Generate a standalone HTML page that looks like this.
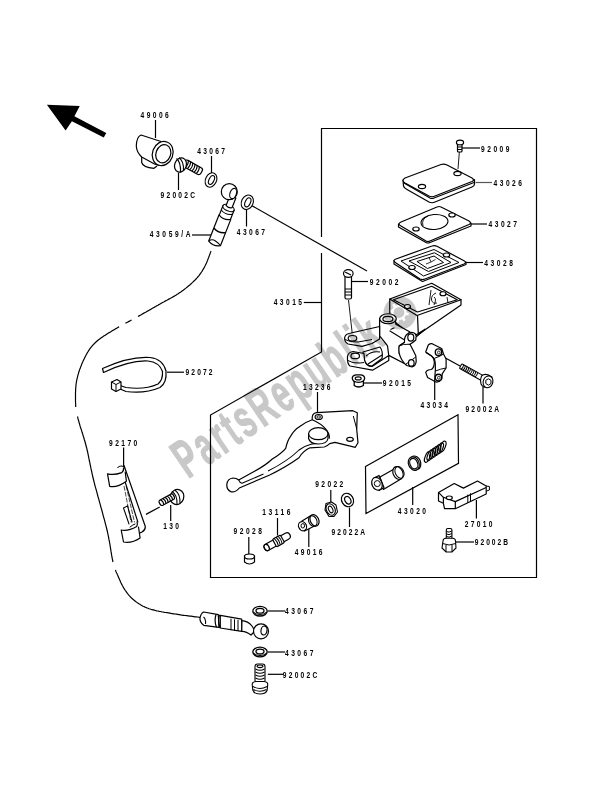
<!DOCTYPE html>
<html><head><meta charset="utf-8">
<style>
html,body{margin:0;padding:0;background:#fff;width:600px;height:785px;overflow:hidden}
svg{display:block}
.l{font-family:"Liberation Sans",sans-serif;font-size:9px;fill:#111}
</style></head><body>
<svg width="600" height="785" viewBox="0 0 600 785">
<g fill="none" stroke="#000" stroke-width="1.2" id="frame">
<path d="M321.5,237 L321.5,128.5 L536.5,128.5 L536.5,577.5 L210.5,577.5 L210.5,415 L321.5,352 L321.5,253"/>
</g>
<!-- arrow -->
<polygon points="46.9,104.75 79.75,106 74.4,116.25 106.25,133.1 103.75,137.5 71.9,121.25 65.6,130.6" fill="#000"/>

<!-- leaders -->
<g stroke="#000" stroke-width="1.2" fill="none">
<path d="M155.5,120 V138"/>
<path d="M211.5,156 V174"/>
<path d="M178.5,173 V190"/>
<path d="M192,235 H211"/>
<path d="M246.5,208 V226.5"/>
<path d="M462,148 H480"/>
<path d="M475.5,182.5 H492" stroke="#555"/>
<path d="M470,224 H487"/>
<path d="M466,262.5 H483"/>
<path d="M352,281.5 H368"/>
<path d="M303.8,302.5 H321.5"/>
<path d="M167,372.2 H184"/>
<path d="M364,383 H382"/>
<path d="M434.7,381 V400"/>
<path d="M483,387 V403.5"/>
<path d="M317.5,392 V413"/>
<path d="M123.6,447.5 V466"/>
<path d="M412.7,487 V505"/>
<path d="M476.4,500 V518.5"/>
<path d="M330.8,490 V502.5"/>
<path d="M349.5,507.5 V527"/>
<path d="M277.5,518 V535.5"/>
<path d="M248.8,537 V554.5"/>
<path d="M308.8,528.7 V547"/>
<path d="M170.7,505 V521"/>
<path d="M456,542 H474"/>
<path d="M267.8,611 H285"/>
<path d="M267.8,652 H285"/>
<path d="M267.8,674.3 H283"/>
<!-- long line washer to body bolt -->
<path d="M251.5,205.5 L367,271"/>
<!-- line clamp to bolt -->
<path d="M440,355 L460,366"/>
<!-- line bracket to bolt 130 -->
<path d="M146,514.4 L159.7,507"/>
</g>


<!-- hose -->
<g stroke="#000" stroke-width="1.2" fill="none" stroke-linejoin="round">
<path d="M211.0,251.0 L210.8,251.4 L210.7,251.9 L210.5,252.5 L210.2,253.1 L210.0,253.7 L209.7,254.5 L209.5,255.2 L209.2,256.0 L208.9,256.8 L208.6,257.7 L208.2,258.6 L207.9,259.4 L207.6,260.3 L207.2,261.2 L206.9,262.0 L206.5,262.9 L206.1,263.7 L205.7,264.5 L205.4,265.3 L205.0,266.0 L204.6,266.7 L204.3,267.4 L203.9,268.1 L203.5,268.7 L203.1,269.4 L202.7,270.0 L202.4,270.7 L202.0,271.3 L201.5,272.0 L201.1,272.6 L200.7,273.2 L200.2,273.9 L199.8,274.5 L199.3,275.1 L198.8,275.8 L198.3,276.4 L197.8,277.0 L197.2,277.7 L196.6,278.3 L196.0,279.0 L195.4,279.7 L194.7,280.3 L194.0,281.0 L193.3,281.7 L192.6,282.4 L191.8,283.1 L191.1,283.8 L190.3,284.5 L189.5,285.2 L188.7,285.8 L187.9,286.5 L187.0,287.2 L186.2,287.9 L185.3,288.6 L184.4,289.3 L183.6,289.9 L182.7,290.6 L181.8,291.2 L180.9,291.9 L180.0,292.5 L179.1,293.1 L178.2,293.7 L177.2,294.3 L176.3,294.9 L175.3,295.5 L174.4,296.1 L173.4,296.6 L172.4,297.2 L171.4,297.8 L170.4,298.3 L169.4,298.9 L168.3,299.4 L167.3,300.0 L166.3,300.5 L165.2,301.1 L164.2,301.7 L163.1,302.2 L162.1,302.8 L161.0,303.4 L160.0,304.0 L158.9,304.6 L157.9,305.2 L156.8,305.8 L155.7,306.5 L154.6,307.1 L153.5,307.7 L152.4,308.3 L151.3,309.0 L150.2,309.6 L149.1,310.2 L147.9,310.9 L146.8,311.5 L145.7,312.2 L144.6,312.8 L143.5,313.4 L142.4,314.0 L141.3,314.7 L140.2,315.3 L139.1,315.9 L138.0,316.5 M131.6,319.9 L130.6,320.5 L129.5,321.1 L128.5,321.6 L127.4,322.2 L126.4,322.7 L125.4,323.3 M119.1,326.8 L118.0,327.4 L117.0,328.0 L115.9,328.6 L114.9,329.3 L113.8,329.9 L112.6,330.6 L111.5,331.3 L110.4,332.0 L109.3,332.6 L108.1,333.3 L107.0,334.0 L105.9,334.7 L104.8,335.4 L103.7,336.1 L102.6,336.9 L101.6,337.6 L100.6,338.3 L99.6,339.0 L98.6,339.8 L97.7,340.5 L96.8,341.3 L96.0,342.0 L95.2,342.7 L94.5,343.5 L93.7,344.2 L93.1,344.9 L92.4,345.7 L91.8,346.4 L91.2,347.1 L90.6,347.9 L90.0,348.6 L89.5,349.4 L89.0,350.1 L88.5,350.9 L88.0,351.7 L87.5,352.5 L87.0,353.4 L86.5,354.2 L86.0,355.1 L85.6,356.0 L85.1,356.9 L84.6,357.9 L84.1,358.9 L83.6,359.9 L83.1,361.0 L82.7,362.0 L82.2,363.1 L81.7,364.2 L81.3,365.4 L80.8,366.5 L80.4,367.7 L79.9,368.9 L79.5,370.1 L79.1,371.3 L78.7,372.5 L78.4,373.7 L78.0,374.9 L77.7,376.1 L77.4,377.4 L77.1,378.6 L76.8,379.8 L76.6,381.0 L76.4,382.2 L76.2,383.5 L76.0,384.8 L75.9,386.1 L75.8,387.4 L75.7,388.7 L75.6,390.0 L75.6,391.4 L75.5,392.7 L75.5,394.1 L75.5,395.4 L75.5,396.7 L75.5,398.0 L75.5,399.2 L75.5,400.5 L75.5,401.7 L75.6,402.8 L75.6,403.9 L75.7,405.0 L75.7,406.0 L75.7,406.9 M77.5,416.5 L77.7,417.3 L77.9,418.1 L78.1,419.0 L78.4,420.0 L78.7,421.0 L79.0,422.1 L79.3,423.3 L79.7,424.5 L80.0,425.7 L80.4,427.0 L80.8,428.2 L81.3,429.6 L81.7,430.9 L82.1,432.3 L82.6,433.7 L83.0,435.1 L83.4,436.6 L83.9,438.0 L84.3,439.5 L84.8,441.0 L85.2,442.5 L85.6,444.0 L86.0,445.5 L86.4,447.0 L86.8,448.5 L87.1,450.0 L87.5,451.5 L87.8,452.9 L88.1,454.4 L88.4,455.9 L88.7,457.4 L89.0,459.0 L89.3,460.5 L89.7,462.1 L90.0,463.7 L90.3,465.3 L90.7,467.0 L91.0,468.7 L91.4,470.4 L91.8,472.2 L92.2,474.1 L92.6,476.0 L93.1,478.0 L93.6,480.0 L94.1,482.1 L94.7,484.4 L95.3,486.8 L96.0,489.2 L96.7,491.7 L97.4,494.3 L98.1,497.0 L98.9,499.6 L99.6,502.3 L100.4,505.1 L101.1,507.8 L101.9,510.5 L102.6,513.2 L103.3,515.8 L104.0,518.4 L104.7,520.9 L105.3,523.3 L105.9,525.7 L106.5,527.9 L107.0,530.0 L107.5,532.0 L107.9,534.0 L108.3,535.9 L108.7,537.8 L109.0,539.7 L109.4,541.5 L109.7,543.2 L110.0,545.0 L110.3,546.6 L110.5,548.2 L110.8,549.8 L111.0,551.4 L111.3,552.8 L111.5,554.3 L111.7,555.7 L112.0,557.0 L112.2,558.3 L112.5,559.6 L112.7,560.8 L113.0,562.0 M115.4,570.1 L115.7,570.7 L115.9,571.3 L116.1,571.8 L116.4,572.4 L116.6,572.9 L116.9,573.5 L117.2,574.1 L117.4,574.7 L117.7,575.3 L118.0,576.0 L118.3,576.7 L118.6,577.4 L118.9,578.1 L119.2,578.8 L119.5,579.6 L119.9,580.3 L120.2,581.0 L120.5,581.7 L120.8,582.5 L121.2,583.2 L121.5,583.9 L121.9,584.6 L122.2,585.3 L122.6,586.0 L123.0,586.7 L123.4,587.4 L123.8,588.1 L124.2,588.7 L124.6,589.4 L125.0,590.0 L125.4,590.6 L125.9,591.2 L126.3,591.8 L126.7,592.4 L127.2,593.0 L127.6,593.6 L128.1,594.2 L128.5,594.8 L129.0,595.3 L129.5,595.9 L130.0,596.4 L130.5,597.0 L131.0,597.5 L131.5,598.0 L132.1,598.5 L132.6,599.0 L133.2,599.5 L133.8,600.0 L134.4,600.5 L135.0,601.0 L135.6,601.5 L136.3,601.9 L136.9,602.4 L137.5,602.8 L138.2,603.3 L138.8,603.7 L139.5,604.1 L140.2,604.6 L140.9,605.0 L141.6,605.4 L142.3,605.8 L143.0,606.2 L143.8,606.5 L144.6,606.9 L145.4,607.3 L146.3,607.6 L147.2,608.0 L148.1,608.3 L149.0,608.7 L150.0,609.0 L151.0,609.3 L152.1,609.6 L153.2,609.9 L154.3,610.2 L155.5,610.5 L156.7,610.8 L158.0,611.0 L159.2,611.3 L160.5,611.5 L161.8,611.8 L163.1,612.0 L164.4,612.3 L165.8,612.5 L167.1,612.7 L168.4,612.9 L169.8,613.1 L171.1,613.4 L172.4,613.6 L173.7,613.8 L175.0,614.0 L176.3,614.2 L177.7,614.4 L179.1,614.6 L180.6,614.9 L182.0,615.1 L183.5,615.3 L185.1,615.5 L186.6,615.7 L188.1,615.9 L189.6,616.1 L191.0,616.2 L192.4,616.4 L193.8,616.6 L195.1,616.8 L196.3,616.9 L197.4,617.0 L198.5,617.2 L199.4,617.3 L200.3,617.4 L201.0,617.5"/>
</g>
<!-- 49006 cap -->
<g stroke="#000" stroke-width="1.2" fill="#fff" stroke-linejoin="round">
<path d="M141.7,156 L141.7,162.5 Q143,167.5 154,168.3 L157,166" fill="none"/>
<path d="M141,135 L161,141.5 L159,165.5 L154.5,164 L141.7,157 Q136.5,152 136.3,146 Q136.5,137 141,135 Z"/>
<ellipse cx="162.7" cy="153.5" rx="10.2" ry="12.3" transform="rotate(20 162.7 153.5)"/>
<ellipse cx="163.3" cy="153.8" rx="7.3" ry="9.3" transform="rotate(20 163.3 153.8)"/>
</g>
<!-- 92002C bolt top -->
<g stroke="#000" stroke-width="1.2" fill="#fff">
<g transform="translate(184,162.5) rotate(29)">
<rect x="0" y="-3.8" width="20" height="7.6" rx="2.5"/>
<path d="M3,-3.8 Q5,0 3.5,3.8 M5.5,-3.8 Q7.5,0 6,3.8 M8,-3.8 Q10,0 8.5,3.8 M10.5,-3.8 Q12.5,0 11,3.8 M13,-3.8 Q15,0 13.5,3.8 M15.5,-3.8 Q17.5,0 16,3.8" stroke-width="1.05" fill="none"/>
</g>
<ellipse cx="180.5" cy="165" rx="5.8" ry="7.3" transform="rotate(20 180.5 165)"/>
<path d="M176.5,158.5 Q181,162 180.5,172.5 M179,157.8 Q184,161 183.5,171" fill="none" stroke-width="1.2"/>
</g>
<!-- washer 43067 top -->
<g stroke="#000" stroke-width="1.1" fill="#fff">
<ellipse cx="211" cy="180" rx="5.5" ry="7.5" transform="rotate(25 211 180)"/>
<ellipse cx="211.5" cy="180" rx="2.5" ry="4.8" transform="rotate(25 211.5 180)"/>
</g>
<!-- washer 43067 right -->
<g stroke="#000" stroke-width="1.1" fill="#fff">
<ellipse cx="247.3" cy="202.3" rx="5.8" ry="7.5" transform="rotate(25 247.3 202.3)"/>
<ellipse cx="247.8" cy="202.3" rx="2.6" ry="4.8" transform="rotate(25 247.8 202.3)"/>
</g>
<!-- banjo 43059/A -->
<g stroke="#000" stroke-width="1.2" fill="#fff" stroke-linejoin="round">
<g transform="translate(228.5,208) rotate(21.5)">
<path d="M-6.3,10 L-6.3,38 Q0,41.5 6.3,38 L6.3,10 Z"/>
<path d="M-6.3,24 Q0,27.5 6.3,24" fill="none" stroke-width="1.4"/>
<path d="M-6.3,38 Q-4,34.5 0,35.5 Q4,36.5 6.3,38" fill="none" stroke-width="1"/>
<path d="M-6,0 L-6,10 Q0,13.5 6,10 L6,0 Z"/>
<path d="M-6,4.5 Q0,8 6,4.5" fill="none" stroke-width="1.05"/>
<ellipse cx="0" cy="0" rx="6" ry="3"/>
<path d="M-3.2,-12 L-3.2,-1.5 Q0,0.5 3.2,-1.5 L3.2,-12 Z"/>
</g>
<circle cx="229.3" cy="191.7" r="8"/>
<ellipse cx="233.2" cy="193.5" rx="3.2" ry="5.3" transform="rotate(20 233.2 193.5)"/>
</g>
<!-- screw 92009 -->
<g stroke="#000" stroke-width="1.2" fill="#fff">
<path d="M459.5,150 L458,169" stroke-width="0.9" fill="none"/>
<rect x="457.5" y="143" width="4.5" height="9" rx="1"/>
<path d="M457.5,147 H462 M457.5,149.5 H462" stroke-width="1"/>
<ellipse cx="460" cy="142.5" rx="3.6" ry="2.4"/>
</g>
<!-- cover 43026 -->
<g stroke="#000" stroke-width="1.2" fill="#fff" stroke-linejoin="round">
<path d="M403,180 L403.5,186 Q404,188 407,189.5 L429,202 Q432,203.5 435,202 L472,187 Q474.5,186 474.5,184 L474.5,179.5 L432,192 Z"/>
<path d="M405,178 L441,164.5 Q444,163.5 447,165 L472,178 Q475,180 472,181.5 L435,196 Q432,197.5 429,196 L405,183 Q401,180.5 405,178 Z"/>
<path d="M404,183 L430,198 Q432,199 434,198 L474,182.5" fill="none"/>
<ellipse cx="422" cy="186.5" rx="3.6" ry="2.2"/>
<ellipse cx="457.5" cy="173.5" rx="3.6" ry="2.2"/>
</g>
<!-- diaphragm 43027 -->
<g stroke="#000" stroke-width="1.2" fill="#fff" stroke-linejoin="round">
<path d="M398.5,224 L398.5,227 L426,242.5 Q428,243.5 430,242.5 L471,226 L471,223 Z"/>
<path d="M401,222 L437,207 Q439,206 441,207 L469,221 Q472,223 469,224.5 L430,241 Q428,242 426,241 L401,226 Q397,224 401,222 Z"/>
<ellipse cx="434.5" cy="222" rx="13.5" ry="7.5" transform="rotate(-5 434.5 222)" stroke-width="1.1"/>
<path d="M423,226 Q421,219 428,216" fill="none" stroke-width="0.9"/>
<ellipse cx="416" cy="229" rx="3.2" ry="2"/>
<ellipse cx="452" cy="215" rx="3.2" ry="2"/>
</g>
<!-- plate 43028 -->
<g stroke="#000" stroke-width="1.2" fill="#fff" stroke-linejoin="round">
<path d="M394,260.5 L394,264 L422.5,281.5 L466,264.5 L466,262 Z"/>
<path d="M396,259 L432,246 Q434.5,245 437,246.3 L464,260.8 Q467,262.5 464,264 L425,279 Q422.5,280 420,279 L396,263 Q392,260.5 396,259 Z"/>
<path d="M401,261 L434,249.5 L459,262.5 L423.5,276 Z" fill="none" stroke-width="1"/>
<path d="M409,261 L434.5,252.75 L451,262.5 L428.5,271.5 Z" fill="none" stroke-width="1"/>
<path d="M417,261.5 L434,256 L443.5,262.5 L427.5,268.5 Z" fill="none" stroke-width="1"/>
<path d="M429,257.5 L431,262 L435.5,259.5 M426,264 L431,262" fill="none" stroke-width="0.8"/>
<ellipse cx="412" cy="267.5" rx="3.2" ry="2"/>
<ellipse cx="446.5" cy="255" rx="3.2" ry="2"/>
</g>
<!-- bolt 92002 body -->
<g stroke="#000" stroke-width="1.2" fill="#fff">
<path d="M348.5,300 L352.5,336" fill="none" stroke-width="0.9"/>
<rect x="345" y="275" width="6.5" height="24" rx="1.5"/>
<path d="M345,289 H351.5 M345,292 H351.5 M345,295 H351.5" stroke-width="1.05"/>
<ellipse cx="348.3" cy="273.5" rx="4.8" ry="3.8"/>
<path d="M345,272 L351,275" stroke-width="1.05"/>
</g>
<!-- body 43015 -->
<g stroke="#000" stroke-width="1.2" fill="#fff" stroke-linejoin="round">
<!-- reservoir walls -->
<path d="M389.75,299 L389.75,314 L396,323 L409,333 L416,336 L461,305 L461,299.75 Z"/>
<path d="M389.75,299 L431.75,283.25 L461,299.75 L417,315.5 Z"/>
<path d="M393.5,299.75 L431.75,286.25 L457.25,299.75 L417.5,312 Z" fill="none"/>
<path d="M417.5,315.5 L418.25,333" fill="none"/>
<ellipse cx="407.5" cy="306.5" rx="3" ry="2"/>
<ellipse cx="443" cy="293.75" rx="3" ry="2"/>
<path d="M431,290 L429,305 M447,297 L448,303" fill="none" stroke-width="0.9"/>
<path d="M436,293 Q431,295 431.5,300 Q432.5,304 437,303 M434,297 Q437,299 434,305" fill="none" stroke-width="0.9"/>
<!-- boss + arm to clamp -->
<path d="M379.6,318.5 L379.6,335.8 Q384,341 387.5,345.8 L388.75,355.4 L405.8,364.2 L399.2,353.3 L399.2,345.8 L405,342 L409.6,331.7 L395.8,324.2 L395.4,320 Z"/>
<path d="M389.6,330.8 L405.8,340.8 M390.5,329.5 L394.5,327.8" fill="none" stroke-width="1.05"/>
<ellipse cx="388" cy="318.75" rx="8.3" ry="5"/>
<ellipse cx="387.9" cy="319" rx="5" ry="2.7"/>
<!-- clamp half on body -->
<path d="M404.5,342.5 Q404,336 408,333.5 Q412,331 415.5,334 Q416.5,337 415.8,335 L425,329.2 L416,337 L415.8,340 Q413,342.5 410,344.3 Q413,350 415.8,355.8 L416.2,361 Q416,366 412,367 L406.7,365.5 Q401,360.5 399.2,353.3 Q398.5,347 399.5,345.8 Z"/>
<path d="M399.5,345.8 Q403,344 410,344.3" fill="none"/>
<path d="M405.8,364.2 L415.8,357" fill="none" stroke-width="1"/>
<ellipse cx="410.8" cy="337.5" rx="3" ry="3.6"/>
<ellipse cx="411.3" cy="362.9" rx="2.8" ry="3.3"/>
<!-- upper ear -->
<path d="M344.6,338 Q345,333.8 351,333 L379.6,326.5 L379.6,339 L372,343.5 L362,346.3 L348,344 Q344.5,342 344.6,338 Z"/>
<path d="M345,339.5 Q350,342.5 358,342 L372,339.5" fill="none" stroke-width="1"/>
<ellipse cx="352.5" cy="338.3" rx="4.3" ry="2.8"/>
<!-- slot -->
<path d="M363,352 L380,347 Q383.5,352 382,358.5 L372,366 Q366,366 364,360 Z"/>
<path d="M366,356 Q372,350.5 380,352 M368,364 L382,355" fill="none" stroke-width="1.05"/>
<!-- lower ear -->
<path d="M347.5,356.5 Q348,352.5 353,351.5 L364,353.5 L364.5,360 Q366,366.5 372,366.5 L388.75,355.4 L388.75,360.5 L372.5,370.2 L350,366 Q347,364 347.5,356.5 Z"/>
<path d="M348,360.5 Q352,363.5 360,363 L364,362.5" fill="none" stroke-width="1"/>
<ellipse cx="355.2" cy="355.9" rx="4.3" ry="2.8"/>
</g>
<!-- nut 92015 -->
<g stroke="#000" stroke-width="1.3" fill="#fff">
<path d="M354.2,381 L354.2,385.5 Q358.5,388.5 363.4,385.5 L363.4,381 Z"/>
<path d="M352.3,378.5 Q352,375.5 356,374.8 L361,374.8 Q364.8,375.5 364.6,378.5 Q364.3,382 358.5,382.3 Q352.6,382 352.3,378.5 Z"/>
<ellipse cx="358.2" cy="378.4" rx="3" ry="1.5" stroke-width="1.1"/>
</g>
<!-- clamp 43034 -->
<g stroke="#000" stroke-width="1.2" fill="#fff" stroke-linejoin="round">
<path d="M428.3,345 Q430,343.5 432.1,343.7 L441.7,348.5 L443.5,354 L446.1,359 L446.1,368 L442.3,373.7 L441.7,378.8 Q439,382.5 435.9,382 L427.6,377.5 L425.7,372.4 Q427,369.5 431.5,369.5 Q434.5,367 434.3,362 Q433.8,357 430,355 L425.7,352 Z"/>
<path d="M425.9,352.5 Q431,355 434.4,358.6 Q435.8,363 435.4,369 L435,375 L434.6,382" fill="none"/>
<path d="M443.5,354 Q439,357 435,358 M435.5,371 Q440,369 446,368" fill="none" stroke-width="1"/>
<ellipse cx="438.5" cy="352.3" rx="3.2" ry="3.4" stroke-width="1.4"/>
<ellipse cx="438.8" cy="352.5" rx="1.3" ry="1.5" fill="none" stroke-width="0.8"/>
<ellipse cx="438.5" cy="377.6" rx="3.2" ry="3.4" stroke-width="1.4"/>
<ellipse cx="438.8" cy="377.8" rx="1.3" ry="1.5" fill="none" stroke-width="0.8"/>
</g>
<!-- bolt 92002A -->
<g stroke="#000" stroke-width="1.1" fill="#fff">
<g transform="translate(460.6,366) rotate(29)">
<rect x="0" y="-2.6" width="25" height="5.2" rx="1"/>
<path d="M2,-2.6 Q3.2,0 2,2.6 M4,-2.6 Q5.2,0 4,2.6 M6,-2.6 Q7.2,0 6,2.6 M8,-2.6 Q9.2,0 8,2.6 M10,-2.6 Q11.2,0 10,2.6 M12,-2.6 Q13.2,0 12,2.6 M14,-2.6 Q15.2,0 14,2.6 M16,-2.6 Q17.2,0 16,2.6 M18,-2.6 Q19.2,0 18,2.6" stroke-width="1" fill="none"/>
</g>
<path d="M481.5,376 Q484,373.5 488,374.8 L492,377 L488,387.5 Q483,388 481,384 Q479.8,379.5 481.5,376 Z"/>
<ellipse cx="488" cy="381.8" rx="4.8" ry="6" transform="rotate(20 488 381.8)"/>
<path d="M488.4,378.8 L491,380.3 L491,383.5 L488.4,385.2 L485.8,383.5 L485.8,380.3 Z" stroke-width="1"/>
</g>
<!-- lever 13236 -->
<g stroke="#000" stroke-width="1.2" fill="#fff" stroke-linejoin="round">
<path d="M316.7,412.7 L352.7,410.7 L357.3,412.7 L356.7,429.3 L358,442.7 L355.3,447.3 L335,442.3 L329.7,443.7 Q327,446.5 324.3,447 L310,447.8 Q303,451 299,457.7 Q286,467 269.7,475 L239.3,488 Q236,492.5 231,491.8 Q226.5,489.5 226.8,484.5 Q227.5,478.5 233,478 Q236.5,478 238.7,480 L255,471 Q266,465 272.3,459 Q282,453 285.7,448.3 Q287.5,441 289.7,437.7 Q294,430 299,427 Q305,422 312.3,419.7 Q311.5,413 316.7,412.7 Z"/>
<path d="M238.7,480 Q240,483 242,483.3 L263.5,474 M268,471 Q288,461 299,450 Q304,446 311,444.2 L325.7,441.7" fill="none" stroke-width="1.05"/>
<path d="M312.3,419.7 Q322,424 326,429.3 Q330,434 329.3,438.7" fill="none"/>
<path d="M353.3,416 L356.7,428.7" fill="none" stroke-width="1"/>
<ellipse cx="318.7" cy="417" rx="3.6" ry="2.5"/>
<ellipse cx="318.7" cy="417" rx="1.8" ry="1.2" fill="none" stroke-width="0.9"/>
<ellipse cx="350" cy="439.3" rx="3.3" ry="2"/>
<path d="M308.6,433.7 L308.6,438.5 Q310,444 318.3,444 Q327,444 328,438.5 L328,433.7 Z"/>
<ellipse cx="318.3" cy="433.7" rx="9.7" ry="6"/>
</g>
<!-- box 43020 -->
<g stroke="#000" stroke-width="1.2" fill="none">
<path d="M365.5,466.5 L458,414.8 L458.5,463.3 L366,513.5 Z"/>
</g>
<!-- piston -->
<g stroke="#000" stroke-width="1.2" fill="#fff" stroke-linejoin="round">
<path d="M380,477 L395.5,468.3 L399.7,479.7 L383.4,489.5 Z"/>
<ellipse cx="398" cy="473" rx="4.8" ry="6.8" transform="rotate(-25 398 473)"/>
<ellipse cx="399.5" cy="472.3" rx="4.2" ry="6.2" transform="rotate(-25 399.5 472.3)" fill="none" stroke-width="1"/>
<path d="M374,478 L379,475.5 L384,487.5 L379,490.5 Z"/>
<ellipse cx="377" cy="483.8" rx="5" ry="6.6" transform="rotate(-25 377 483.8)"/>
<circle cx="377.3" cy="483.6" r="3" stroke-width="1"/>
</g>
<!-- seal 43020 ring -->
<g stroke="#000" stroke-width="1.2" fill="#fff">
<ellipse cx="415.3" cy="462.8" rx="5.3" ry="7" transform="rotate(-22 415.3 462.8)"/>
<ellipse cx="413.8" cy="463.6" rx="5.3" ry="7" transform="rotate(-22 413.8 463.6)"/>
<ellipse cx="413.8" cy="463.6" rx="3.8" ry="5.4" transform="rotate(-22 413.8 463.6)"/>
</g>
<!-- spring -->
<g stroke="#000" stroke-width="1.2" fill="none">
<ellipse cx="427.50" cy="457.00" rx="2.3" ry="5.6" transform="rotate(22 427.50 457.00)"/>
<ellipse cx="430.08" cy="455.25" rx="2.3" ry="5.6" transform="rotate(22 430.08 455.25)"/>
<ellipse cx="432.67" cy="453.50" rx="2.3" ry="5.6" transform="rotate(22 432.67 453.50)"/>
<ellipse cx="435.25" cy="451.75" rx="2.3" ry="5.6" transform="rotate(22 435.25 451.75)"/>
<ellipse cx="437.83" cy="450.00" rx="2.3" ry="5.6" transform="rotate(22 437.83 450.00)"/>
<ellipse cx="440.42" cy="448.25" rx="2.3" ry="5.6" transform="rotate(22 440.42 448.25)"/>
<ellipse cx="443.00" cy="446.50" rx="2.3" ry="5.6" transform="rotate(22 443.00 446.50)"/>
</g>
<!-- 27010 bracket -->
<g stroke="#000" stroke-width="1.2" fill="#fff" stroke-linejoin="round">
<path d="M438.5,492.4 L454.2,483.5 L463.4,488.1 L477.5,481 L486.2,485.9 L486.2,494 L455.3,508.7 L444.5,508.7 L443.4,503.3 L438.5,501 Z"/>
<path d="M438.5,492.4 L443.4,497.3 L455.3,501.6 L486.2,487.5" fill="none"/>
<path d="M443.4,497.3 L443.4,503.3 M455.3,501.6 L455.3,508.7" fill="none"/>
<path d="M467.8,494.6 L467.8,503 M470.5,493.3 L470.5,501.7" fill="none" stroke-width="1"/>
<ellipse cx="449.3" cy="497.8" rx="3" ry="1.8"/>
<path d="M486.2,486 L489.4,486.5 L489.4,490 L486.5,491" fill="none" stroke-width="1"/>
</g>
<!-- bolt 92002B -->
<g stroke="#000" stroke-width="1.1" fill="#fff">
<rect x="446.3" y="528.5" width="5.6" height="13" rx="1.5"/>
<path d="M446.3,531.5 Q449,533 451.9,531 M446.3,534 Q449,535.5 451.9,533.5 M446.3,536.5 Q449,538 451.9,536 M446.3,539 Q449,540.5 451.9,538.5" fill="none" stroke-width="1"/>
<path d="M443,541 Q443,538.5 446,538.3 L452.5,538.3 Q455.5,538.5 455.5,541 L456,548 L452,552 L446,552 L442,548 Z"/>
<path d="M442.5,543.5 Q449,546.5 455.8,543.5 M446,545 L446,552 M452,545 L452,552" fill="none" stroke-width="1"/>
</g>
<!-- nut 92022 -->
<g stroke="#000" stroke-width="1.1" fill="#fff" stroke-linejoin="round">
<path d="M326,503.5 L331.5,502 L336,505 L337.5,512 L334,516.5 L329,516.5 L325,510 Z"/>
<ellipse cx="330.7" cy="509.5" rx="4.3" ry="6" transform="rotate(-25 330.7 509.5)"/>
<ellipse cx="330.7" cy="509.5" rx="2" ry="3.5" transform="rotate(-25 330.7 509.5)" stroke-width="1.05"/>
</g>
<!-- washer 92022A -->
<g stroke="#000" stroke-width="1.2" fill="#fff">
<ellipse cx="347.5" cy="500" rx="5.8" ry="7" transform="rotate(-30 347.5 500)"/>
<ellipse cx="347.8" cy="500.2" rx="2.8" ry="4" transform="rotate(-30 347.8 500.2)"/>
</g>
<!-- pin 13116 -->
<g stroke="#000" stroke-width="1.2" fill="#fff">
<g transform="translate(266.7,547.5) rotate(-29)">
<rect x="-2.5" y="-3.4" width="29" height="6.8" rx="3.4"/>
<ellipse cx="0" cy="0" rx="2.3" ry="3.4"/>
<rect x="9" y="-4.4" width="9" height="8.8" rx="1.5"/>
<path d="M11,-4.4 Q12.5,0 11,4.4 M13.2,-4.4 Q14.7,0 13.2,4.4 M15.4,-4.4 Q16.9,0 15.4,4.4" stroke-width="1.05" fill="none"/>
</g>
</g>
<!-- cap 92028 -->
<g stroke="#000" stroke-width="1.2" fill="#fff">
<path d="M244.5,556 L244.5,562 Q249.5,566 254.5,562 L254.5,556 Z"/>
<ellipse cx="249.5" cy="556.5" rx="5" ry="2.5"/>
</g>
<!-- bushing 49016 -->
<g stroke="#000" stroke-width="1.2" fill="#fff" stroke-linejoin="round">
<path d="M302,521 L311,515.5 L315.5,525.5 L304.5,531 Z"/>
<ellipse cx="314.5" cy="520.3" rx="4.2" ry="6" transform="rotate(-25 314.5 520.3)"/>
<ellipse cx="312.8" cy="521" rx="4" ry="5.6" transform="rotate(-25 312.8 521)" fill="none" stroke-width="1"/>
<ellipse cx="302.5" cy="526.2" rx="3.9" ry="4.7" transform="rotate(-25 302.5 526.2)"/>
<ellipse cx="302.8" cy="525.8" rx="1.8" ry="2.2" fill="none" stroke-width="1"/>
</g>
<!-- cable tie 92072 -->
<g stroke="#000" stroke-width="1.2" fill="#fff" stroke-linejoin="round">
<path d="M102.5,368.5 Q130,356 150,357.5 Q163,359 166,371 Q167,383 160,387.5 Q145,394 126,391.5 L120,389 L120,385.5 L126,387.5 Q145,390 158,384 Q163,380 162.5,371.5 Q159,362 148,361 Q130,360 103.5,372.5 Z"/>
<path d="M111.5,382 L117,379.5 L121,382 L121,389 L116,391.5 L111.5,389 Z"/>
<path d="M111.5,382 L116,384.5 L121,382 M116,384.5 V391.5" fill="none" stroke-width="1"/>
</g>
<!-- bracket 92170 -->
<g stroke="#000" stroke-width="1.2" fill="none" stroke-linejoin="round" stroke-linecap="round">
<path d="M124.1,465.7 L145.3,526.5 Q145.5,530 142,532 L139,533.4"/>
<path d="M122.9,474.9 L137.8,521.9"/>
<path d="M124.1,486.4 L131,522 M126.3,486.4 L134.4,522" stroke-dasharray="4,2" stroke-width="0.7"/>
<path d="M123.5,508 L127.5,505.9 M123.5,508 L129,524 M127.5,505.9 L132,522" stroke-width="1.05"/>
<path d="M117.8,467.5 Q120,465 124,466.5 Q125,469.5 121.5,470" stroke-width="1.05"/>
<path d="M107.5,473.8 Q114,475.5 121.8,472.6 Q124,470.5 123.5,468 M107.5,473.8 L109.7,486.4 Q117,488 126.4,481.2 L125.2,472" fill="#fff"/>
<path d="M121.2,530 Q128,531.5 136.7,526.5 Q138,524 137,522 M121.2,530 L123.5,542 Q132,543.5 140.1,538 L138.5,527" fill="#fff"/>
<path d="M130,527 Q133,524.5 135,524" stroke-width="1"/>
</g>
<!-- bolt 130 -->
<g stroke="#000" stroke-width="1.2" fill="#fff">
<ellipse cx="177" cy="497" rx="6.8" ry="7.6" transform="rotate(20 177 497)"/>
<path d="M172,491.5 Q177.5,495 177,504.5 M175,490.3 Q180.5,494 180,503.5" fill="none" stroke-width="1.05"/>
<g transform="translate(159.7,503.5) rotate(-28)">
<rect x="0" y="-3" width="16" height="6" rx="2"/>
<path d="M2.5,-3 Q4.5,0 3,3 M5,-3 Q7,0 5.5,3 M7.5,-3 Q9.5,0 8,3 M10,-3 Q12,0 10.5,3 M12.5,-3 Q14.5,0 13,3" stroke-width="1.05" fill="none"/>
</g>
</g>
<!-- lower hose end -->
<g stroke="#000" stroke-width="1.2" fill="#fff" stroke-linejoin="round">
<path d="M241.7,620.7 Q248,621 252,626 L255,631 L251,635 Q246,631 241.5,631.3 Z"/>
<path d="M220.3,615.3 L241.7,619.2 L241.7,631.3 L220.3,628 Z"/>
<path d="M231,618.7 V630.2 M234.5,619.3 V630.8 M238,619.8 V631" stroke-width="1" fill="none"/>
<path d="M203.7,612 L218.3,614.7 L219,627.3 L203.7,625.3 Q199.5,622 200,618 Q201,613 203.7,612 Z"/>
<path d="M203.5,617 Q206,619 205.5,624" fill="none" stroke-width="1.05"/>
<path d="M216,614.5 Q214,621 216.5,627.5 M219.5,614.8 Q217.5,621 220,628" fill="none" stroke-width="1.2"/>
<circle cx="261" cy="631.3" r="7.5"/>
<ellipse cx="264" cy="630.5" rx="3" ry="4.5" transform="rotate(10 264 630.5)"/>
</g>
<!-- washers lower -->
<g stroke="#000" stroke-width="1.3" fill="#fff">
<ellipse cx="260" cy="611.2" rx="7.2" ry="4.8"/>
<ellipse cx="260" cy="610.8" rx="4" ry="2.4"/>
<path d="M253,612 Q260,617 267,612" fill="none" stroke-width="1"/>
<ellipse cx="260" cy="652" rx="7.2" ry="4.8"/>
<ellipse cx="260" cy="651.6" rx="4" ry="2.4"/>
<path d="M253,653 Q260,658 267,653" fill="none" stroke-width="1"/>
</g>
<!-- bolt 92002C lower -->
<g stroke="#000" stroke-width="1.1" fill="#fff">
<rect x="255" y="664" width="10" height="19" rx="2.5"/>
<path d="M255.5,669 Q260,671.5 264.5,669 M255.5,672 Q260,674.5 264.5,672 M255.5,675 Q260,677.5 264.5,675 M255.5,678 Q260,680.5 264.5,678" fill="none"/>
<ellipse cx="260" cy="666.3" rx="3" ry="1.3" stroke-width="1.05"/>
<path d="M252.2,684.5 Q252,682 256,681.5 L264,681.5 Q268,682 267.7,684.5 L267.2,690 Q266,694 260,694 Q254,694 252.8,690 Z"/>
<path d="M253,686.5 Q260,690.5 267,686.5 M253.5,689.5 Q260,693 266.5,689.5" fill="none" stroke-width="1.05"/>
</g>
<!-- labels -->
<g font-family="Liberation Sans" font-size="9.5" font-weight="bold" fill="#000">
<text transform="translate(140.54,118.40) scale(0.7,1)" textLength="40.30" lengthAdjust="spacing">49006</text>
<text transform="translate(197.29,154.10) scale(0.7,1)" textLength="39.59" lengthAdjust="spacing">43067</text>
<text transform="translate(160.59,198.40) scale(0.7,1)" textLength="49.16" lengthAdjust="spacing">92002C</text>
<text transform="translate(149.79,237.40) scale(0.7,1)" textLength="58.16" lengthAdjust="spacing">43059/A</text>
<text transform="translate(236.79,234.90) scale(0.7,1)" textLength="40.30" lengthAdjust="spacing">43067</text>
<text transform="translate(481.04,152.15) scale(0.7,1)" textLength="40.66" lengthAdjust="spacing">92009</text>
<text transform="translate(493.54,186.15) scale(0.7,1)" textLength="40.66" lengthAdjust="spacing">43026</text>
<text transform="translate(488.54,227.40) scale(0.7,1)" textLength="40.66" lengthAdjust="spacing">43027</text>
<text transform="translate(484.29,266.15) scale(0.7,1)" textLength="41.01" lengthAdjust="spacing">43028</text>
<text transform="translate(369.79,285.40) scale(0.7,1)" textLength="41.01" lengthAdjust="spacing">92002</text>
<text transform="translate(273.69,305.40) scale(0.7,1)" textLength="40.44" lengthAdjust="spacing">43015</text>
<text transform="translate(185.49,375.40) scale(0.7,1)" textLength="38.59" lengthAdjust="spacing">92072</text>
<text transform="translate(382.79,386.40) scale(0.7,1)" textLength="40.30" lengthAdjust="spacing">92015</text>
<text transform="translate(420.59,408.40) scale(0.7,1)" textLength="39.16" lengthAdjust="spacing">43034</text>
<text transform="translate(465.59,412.10) scale(0.7,1)" textLength="47.73" lengthAdjust="spacing">92002A</text>
<text transform="translate(303.09,389.60) scale(0.7,1)" textLength="39.16" lengthAdjust="spacing">13236</text>
<text transform="translate(109.09,446.00) scale(0.7,1)" textLength="40.30" lengthAdjust="spacing">92170</text>
<text transform="translate(397.79,514.40) scale(0.7,1)" textLength="40.30" lengthAdjust="spacing">43020</text>
<text transform="translate(464.79,527.40) scale(0.7,1)" textLength="39.44" lengthAdjust="spacing">27010</text>
<text transform="translate(315.29,487.40) scale(0.7,1)" textLength="39.94" lengthAdjust="spacing">92022</text>
<text transform="translate(331.54,534.90) scale(0.7,1)" textLength="47.80" lengthAdjust="spacing">92022A</text>
<text transform="translate(262.29,515.40) scale(0.7,1)" textLength="40.30" lengthAdjust="spacing">13116</text>
<text transform="translate(233.54,534.15) scale(0.7,1)" textLength="40.66" lengthAdjust="spacing">92028</text>
<text transform="translate(294.79,554.90) scale(0.7,1)" textLength="39.59" lengthAdjust="spacing">49016</text>
<text transform="translate(163.19,529.40) scale(0.7,1)" textLength="22.59" lengthAdjust="spacing">130</text>
<text transform="translate(474.79,545.40) scale(0.7,1)" textLength="47.44" lengthAdjust="spacing">92002B</text>
<text transform="translate(284.99,613.80) scale(0.7,1)" textLength="40.59" lengthAdjust="spacing">43067</text>
<text transform="translate(284.99,655.70) scale(0.7,1)" textLength="40.59" lengthAdjust="spacing">43067</text>
<text transform="translate(282.79,677.70) scale(0.7,1)" textLength="49.30" lengthAdjust="spacing">92002C</text>
</g>
<!-- /labels -->

<!-- watermark -->
<defs>
<mask id="gm" maskUnits="userSpaceOnUse" x="0" y="0" width="600" height="785">
<rect x="0" y="0" width="600" height="785" fill="#fff"/>
<circle cx="399" cy="312.5" r="6.5" fill="none" stroke="#000" stroke-width="2.2"/>
<path d="M405.4,313.6 L408.8,314.2 M402.7,317.8 L404.7,320.7 M397.9,318.9 L397.3,322.3 M393.7,316.2 L390.8,318.2 M392.6,311.4 L389.2,310.8 M395.3,307.2 L393.3,304.3 M400.1,306.1 L400.7,302.7 M404.3,308.8 L407.2,306.8 " stroke="#000" stroke-width="2.6"/>
</mask>
</defs>
<g style="mix-blend-mode:multiply" fill="#c8c8c8">
<g transform="translate(188,479) rotate(-34.3) scale(0.57,1)">
<text x="0" y="0" font-family="Liberation Sans" font-weight="bold" font-size="54" textLength="421" lengthAdjust="spacing" stroke="#c8c8c8" stroke-width="1.2">PartsRepublik</text>
</g>
<circle cx="400" cy="313" r="16.5" mask="url(#gm)"/>
</g>
</svg>
</body></html>
